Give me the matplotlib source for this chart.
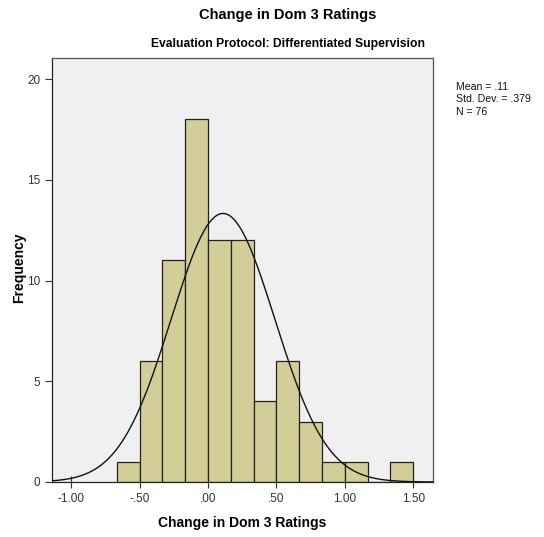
import numpy as np
import matplotlib.pyplot as plt

# histogram counts (bin width 1/6)
bin_edges = np.arange(-4, 10) / 6.0
counts = [1, 6, 11, 18, 12, 12, 4, 6, 3, 1, 1, 0, 1]
mean, sd, n = 0.11, 0.379, 76
xticks = [-1.0, -0.5, 0.0, 0.5, 1.0, 1.5]
xtick_labels = ["-1.00", "-.50", ".00", ".50", "1.00", "1.50"]
yticks = [0, 5, 10, 15, 20]

plt.rcParams['font.family'] = ['Liberation Sans', 'DejaVu Sans']

fig = plt.figure(figsize=(5.44, 5.37), dpi=100)
ax = fig.add_axes([52 / 544, 55 / 537, 381 / 544, 424 / 537])
ax.set_facecolor('#F0F0F0')

width = bin_edges[1] - bin_edges[0]
ax.bar(bin_edges[:-1], counts, width=width, align='edge',
       color='#D3CE97', edgecolor='#222222', linewidth=0.9, zorder=2)

# normal curve scaled to counts
xs = np.linspace(-1.14, 1.645, 400)
ys = n * width / (sd * np.sqrt(2 * np.pi)) * np.exp(-0.5 * ((xs - mean) / sd) ** 2)
ax.plot(xs, ys, color='#111111', linewidth=1.0, zorder=3)

ax.set_xlim(-1.14, 1.645)
ax.set_ylim(0, 21.05)
ax.set_xticks(xticks)
ax.set_xticklabels(xtick_labels)
ax.set_yticks(yticks)
ax.tick_params(axis='both', labelsize=8.5, colors='#333333', length=5, width=0.8)
ax.tick_params(axis='x', direction='inout', length=9)
for s in ax.spines.values():
    s.set_color('#555555')
    s.set_linewidth(0.9)
ax.spines['left'].set_color('#222222')
ax.spines['bottom'].set_color('#222222')

ax.set_xlabel("Change in Dom 3 Ratings", fontsize=10, fontweight='bold', labelpad=8)
fig.text(19 / 544, 1 - 268 / 537, "Frequency", rotation=90, ha='center', va='center',
         fontsize=10, fontweight='bold')

fig.text(288 / 544, 1 - 15 / 537, "Change in Dom 3 Ratings", ha='center', va='center',
         fontsize=10.5, fontweight='bold')
fig.text(288 / 544, 1 - 44 / 537, "Evaluation Protocol: Differentiated Supervision",
         ha='center', va='center', fontsize=8.7, fontweight='bold')
fig.text(456 / 544, 1 - 82 / 537, "Mean = .11\nStd. Dev. = .379\nN = 76",
         ha='left', va='top', fontsize=7.6, linespacing=1.3, color='#111111')

fig.savefig("out.png", dpi=100, facecolor='white')
